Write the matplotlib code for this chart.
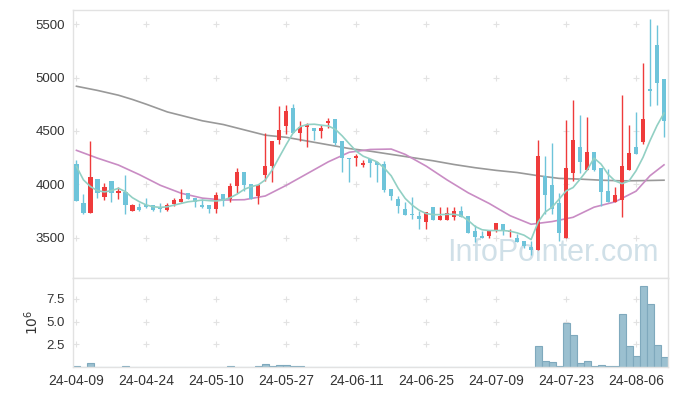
import numpy as np
import matplotlib
matplotlib.use('Agg')
import matplotlib.pyplot as plt

# 일봉 데이터 (24-04-09 ~ 24-08-12)
opens = [4192, 3827, 3733, 4053, 3884, 4031, 3921, 3925, 3752, 3786,
         3802, 3802, 3786, 3758, 3811, 3836, 3921, 3868, 3802, 3802,
         3770, 3906, 3865, 3984, 4116, 4000, 3893, 4085, 4167, 4411,
         4547, 4715, 4481, 4538, 4532, 4500, 4576, 4611, 4402, 4250,
         4247, 4177, 4237, 4206, 4193, 3956, 3861, 3766, 3721, 3699,
         3642, 3791, 3664, 3664, 3690, 3753, 3699, 3558, 3513, 3513,
         3575, 3626, 3550, 3500, 3470, 3409, 3387, 4079, 3994, 3824,
         3497, 4110, 4346, 4132, 4305, 4157, 3937, 3836, 3849, 4138,
         4346, 4393, 4896, 5305, 4984]
highs = [4223, 3909, 4406, 4053, 4016, 4031, 3972, 4091, 3814, 3820,
         3874, 3810, 3820, 3820, 3870, 3953, 3921, 3868, 3858, 3802,
         3928, 3906, 4016, 4157, 4116, 4000, 3991, 4481, 4409, 4733,
         4747, 4753, 4592, 4573, 4532, 4554, 4617, 4611, 4402, 4250,
         4285, 4224, 4237, 4206, 4215, 3956, 3889, 3829, 3883, 3753,
         3744, 3791, 3791, 3782, 3782, 3800, 3699, 3616, 3560, 3575,
         3640, 3626, 3585, 3538, 3470, 3465, 4415, 4267, 4384, 3921,
         4607, 4793, 4645, 4629, 4305, 4157, 4142, 3978, 4833, 4560,
         4676, 5138, 5550, 5494, 4984]
lows = [3846, 3720, 3733, 3874, 3852, 3830, 3858, 3720, 3745, 3750,
        3777, 3745, 3740, 3750, 3800, 3830, 3858, 3786, 3777, 3726,
        3726, 3796, 3833, 3915, 3940, 3862, 3811, 4028, 4022, 4373,
        4475, 4481, 4405, 4351, 4411, 4430, 4525, 4364, 4111, 4025,
        4174, 4166, 4066, 4022, 3930, 3851, 3734, 3712, 3677, 3585,
        3585, 3664, 3664, 3664, 3664, 3690, 3544, 3456, 3494, 3500,
        3555, 3522, 3506, 3459, 3400, 3340, 3387, 3717, 3717, 3465,
        3497, 4031, 4110, 4132, 4126, 3796, 3836, 3836, 3692, 4138,
        4280, 4377, 4733, 4739, 4447]
closes = [3846, 3733, 4066, 3921, 3972, 3921, 3940, 3808, 3802, 3755,
          3790, 3755, 3764, 3802, 3855, 3862, 3858, 3830, 3790, 3770,
          3896, 3843, 3984, 4116, 3994, 3862, 3991, 4173, 4409, 4506,
          4684, 4481, 4541, 4554, 4500, 4525, 4592, 4389, 4247, 4240,
          4263, 4202, 4199, 4177, 3946, 3889, 3797, 3712, 3709, 3674,
          3744, 3664, 3706, 3734, 3753, 3690, 3544, 3505, 3496, 3575,
          3638, 3563, 3566, 3463, 3420, 3384, 4267, 3896, 3770, 3544,
          4154, 4418, 4204, 4305, 4138, 3931, 3836, 3899, 4167, 4289,
          4280, 4610, 4874, 4950, 4591]
# 거래량 (단위 10^6)
volumes = [0.12, 0.02, 0.42, 0.02, 0.02, 0.02, 0.02, 0.10, 0.02, 0.02,
           0.02, 0.02, 0.02, 0.02, 0.02, 0.02, 0.02, 0.02, 0.02, 0.02,
           0.02, 0.02, 0.10, 0.02, 0.02, 0.02, 0.10, 0.33, 0.10, 0.22,
           0.22, 0.10, 0.10, 0.02, 0.02, 0.02, 0.02, 0.02, 0.02, 0.02,
           0.02, 0.02, 0.02, 0.02, 0.02, 0.02, 0.02, 0.02, 0.02, 0.02,
           0.02, 0.02, 0.02, 0.02, 0.02, 0.02, 0.02, 0.02, 0.02, 0.02,
           0.02, 0.02, 0.02, 0.02, 0.02, 0.02, 2.28, 0.66, 0.55, 0.11,
           4.85, 3.49, 0.40, 0.66, 0.07, 0.22, 0.10, 0.10, 5.85, 2.30,
           1.20, 8.93, 6.95, 2.39, 1.10]

# 이동평균선
ma5 = [4167, 4041, 3978, 3940, 3928, 3940, 3962, 3931, 3874, 3836,
       3805, 3789, 3783, 3789, 3805, 3821, 3836, 3843, 3852, 3846,
       3843, 3852, 3874, 3909, 3953, 3978, 3994, 4041, 4135, 4255,
       4373, 4484, 4541, 4560, 4563, 4554, 4547, 4516, 4453, 4380,
       4310, 4263, 4237, 4209, 4152, 4079, 3962, 3867, 3804, 3756,
       3725, 3715, 3715, 3718, 3718, 3706, 3661, 3604, 3573, 3566,
       3566, 3566, 3560, 3544, 3522, 3481, 3645, 3738, 3785, 3860,
       3937, 3969, 4047, 4132, 4245, 4189, 4094, 4031, 4006, 4031,
       4126, 4252, 4409, 4550, 4667]
ma20_idx = [0, 3, 6, 9, 12, 15, 18, 21, 24, 27, 30, 33, 36, 39, 42, 45,
            47, 50, 53, 56, 59, 62, 65, 68, 71, 74, 77, 80, 82, 84]
ma20 = [4318, 4245, 4180, 4090, 3990, 3915, 3870, 3852, 3855, 3890,
        3990, 4100, 4210, 4300, 4326, 4330, 4280, 4170, 4040, 3920,
        3820, 3705, 3625, 3650, 3690, 3785, 3835, 3935, 4080, 4182]
ma120_idx = [0, 3, 6, 8, 10, 13, 15, 18, 21, 24, 27, 30, 33, 36, 39, 42,
             45, 48, 51, 54, 57, 60, 63, 66, 69, 72, 75, 78, 81, 84]
ma120 = [4919, 4880, 4835, 4795, 4750, 4678, 4645, 4595, 4560, 4510,
         4460, 4440, 4405, 4370, 4335, 4310, 4280, 4250, 4220, 4185,
         4155, 4130, 4110, 4080, 4055, 4048, 4038, 4032, 4034, 4038]

tick_labels = ['24-04-09', '24-04-24', '24-05-10', '24-05-27', '24-06-11',
               '24-06-25', '24-07-09', '24-07-23', '24-08-06']

plt.rcParams['font.family'] = ['Liberation Sans', 'DejaVu Sans']

x = np.arange(len(closes))
o = np.array(opens)
c = np.array(closes)
up = c > o
red = '#ef3b3b'
blue = '#6ec4da'
cols = np.where(up, red, blue)

W, H = 677, 396
fig = plt.figure(figsize=(W / 100, H / 100), dpi=100)
left = 73.3 / W
width = (667.5 - 73.3) / W
ax = fig.add_axes([left, 1 - 278.3 / H, width, (278.3 - 10) / H])
axv = fig.add_axes([left, 1 - 367 / H, width, (367 - 278.3) / H], sharex=ax)

xticks = np.arange(0, len(closes), 10)
price_ticks = [3500, 4000, 4500, 5000, 5500]
vol_ticks = [2.5, 5.0, 7.5]

# 그리드 대신 + 표시
gx, gy = np.meshgrid(xticks, price_ticks)
ax.scatter(gx.ravel(), gy.ravel(), marker='+', s=14, color='#e2e2e2', lw=0.8, zorder=0)
gx, gy = np.meshgrid(xticks, vol_ticks)
axv.scatter(gx.ravel(), gy.ravel(), marker='+', s=14, color='#e2e2e2', lw=0.8, zorder=0)

ax.text(0.985, 0.04, 'InfoPointer.com', transform=ax.transAxes, ha='right', va='bottom',
        fontsize=22, color='#d0e0e8', zorder=1)

# 이동평균선
ax.plot(ma120_idx, ma120, color='#999999', lw=1.2, zorder=2)
ax.plot(ma20_idx, ma20, color='#c98cc4', lw=1.2, zorder=2)
ax.plot(x, ma5, color='#92d0c4', lw=1.2, zorder=4)

# 캔들
ax.vlines(x, lows, highs, colors=cols, lw=1.0, zorder=3)
body_h = np.maximum(np.abs(c - o), 10)
ax.bar(x, body_h, bottom=np.minimum(o, c), width=0.6, color=cols, zorder=3)

# 거래량
axv.bar(x, volumes, width=1.0, color='#9bc0d0', edgecolor='#7fa9bd', lw=0.8, zorder=2)

ax.set_xlim(-0.45, 84.5)
ax.set_ylim(3118, 5634)
axv.set_ylim(0, 9.77)

ax.set_yticks(price_ticks)
ax.set_xticks(xticks)
ax.tick_params(axis='x', labelbottom=False, length=0)
ax.tick_params(axis='y', length=0, pad=6, labelsize=9.5, labelcolor='#333333')
axv.set_yticks(vol_ticks)
axv.set_yticklabels(['2.5', '5.0', '7.5'])
axv.set_xticks(xticks)
axv.set_xticklabels(tick_labels)
axv.tick_params(axis='y', length=0, pad=6, labelsize=9.5, labelcolor='#333333')
axv.tick_params(axis='x', length=0, pad=5, labelsize=10, labelcolor='#333333')
axv.set_ylabel(r'$10^6$', fontsize=10, color='#333333')
axv.yaxis.set_label_coords(-0.055, 0.5)

for a in (ax, axv):
    for s in a.spines.values():
        s.set_color('#e2e2e2')
        s.set_linewidth(1.0)

fig.savefig('out.png', dpi=100)
